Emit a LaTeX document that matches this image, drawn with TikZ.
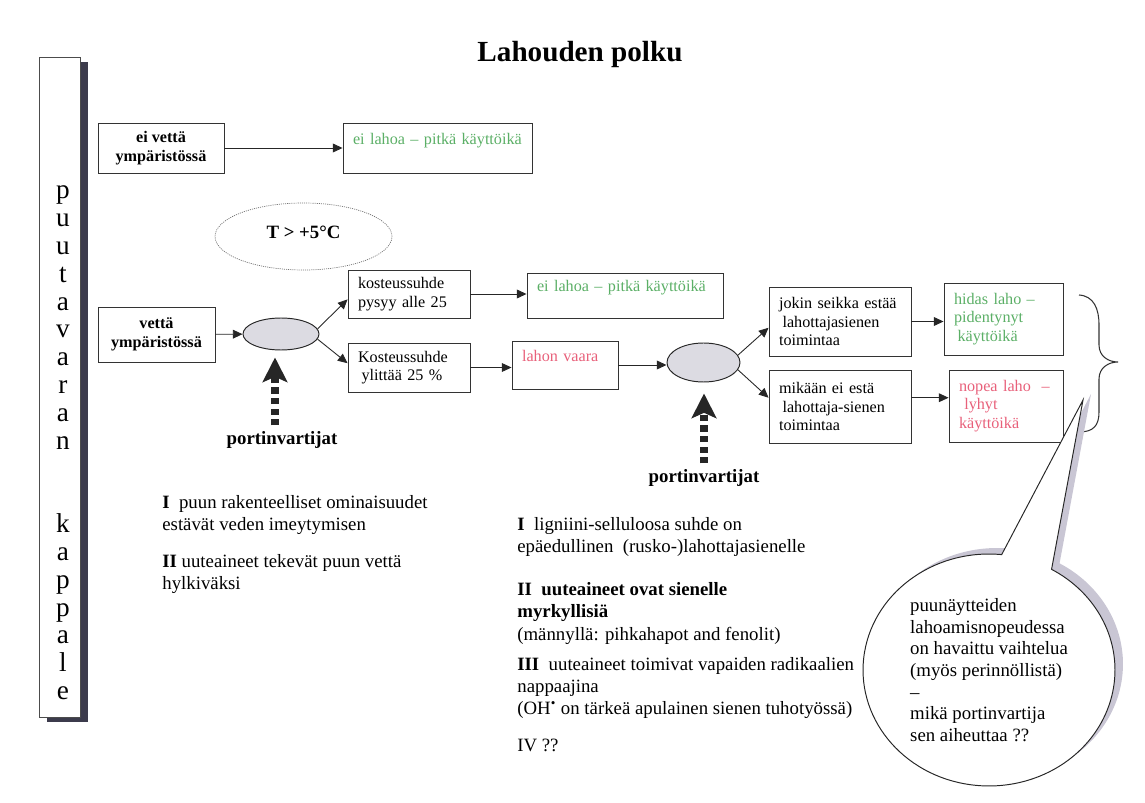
\documentclass[tikz,border=0pt]{standalone}
\usepackage{fontspec}
\setmainfont{Liberation Serif}
\usetikzlibrary{arrows.meta, calc, shapes.geometric, shapes.callouts, shadows}
\definecolor{lahogreen}{HTML}{5BAF66}
\definecolor{lahored}{HTML}{E8607A}
\definecolor{sidedark}{HTML}{3C3B4C}
\definecolor{bubbleshade}{HTML}{C9C6D4}
\definecolor{gatefill}{HTML}{DCDBE2}
\tikzset{
  box/.style={draw=black!80, line width=0.55pt, inner xsep=0.2cm, inner ysep=0pt, align=left, font=\fontsize{9.2}{10.6}\selectfont},
  boldbox/.style={box, align=center, font=\fontsize{9.2}{10.6}\selectfont\bfseries},
  toptext/.style={text depth=10.5pt},
  flow/.style={-{Triangle[length=5.5pt,width=5pt]}, line width=0.5pt, draw=black!85},
  gate/.style={ellipse, draw=black!85, line width=0.55pt, fill=gatefill, inner sep=0pt},
  guard/.style={line width=4pt, dash pattern=on 3.5pt off 2.5pt, draw=black!85, -{Stealth[length=14pt,width=14pt,inset=3pt]}},
  guardlabel/.style={font=\fontsize{10.7}{12}\selectfont\bfseries},
  body/.style={align=left, anchor=north west, inner sep=0pt, font=\fontsize{10.7}{12.6}\selectfont},
  sidechar/.style={anchor=base, inner sep=0pt, font=\fontsize{15.5}{15.5}\selectfont},
  sidebox/.style={draw=black!70, line width=0.5pt, fill=white, minimum width=0.82cm, minimum height=13.2cm, inner sep=0pt,
    drop shadow={shadow xshift=0.16cm, shadow yshift=-0.1cm, fill=sidedark, opacity=1}},
  bubble/.style={ellipse callout, draw=black!85, line width=0.55pt, fill=white, minimum width=5.04cm, minimum height=4.64cm,
    inner sep=0pt, callout pointer arc=24, align=left, font=\fontsize{10.7}{12.3}\selectfont,
    drop shadow={shadow xshift=0.16cm, shadow yshift=0.12cm, fill=bubbleshade, opacity=1}}
}

\begin{document}
\begin{tikzpicture}[x=0.02cm, y=-0.02cm]
	\useasboundingbox (0,0) rectangle (1145,803);
	\node[font=\fontsize{16.6}{20}\selectfont\bfseries, anchor=base] (title) at (580,62) {Lahouden polku};

	% puutavaran kappale
	\node[sidebox] (side) at (59.5,387) {};
	\foreach \ch [count=\i from 0] in {p,u,u,t,a,v,a,r,a,n}
		\node[sidechar] (pu\i) at (63,{199+27.8*\i}) {\ch};
	\foreach \ch [count=\i from 12] in {k,a,p,p,a,l,e}
		\node[sidechar] (ka\i) at (63,{199+27.8*\i}) {\ch};

	% ei vettä
	\node[boldbox, minimum width=2.52cm, minimum height=1cm] (dry) at (161,148) {ei vettä\\ ympäristössä};
	\node[box, toptext, text width=3.38cm, minimum height=1cm, text=lahogreen] (sound1) at (437.5,148) {ei lahoa – pitkä käyttöikä};
	\draw[flow] (dry) -- (sound1);

	% vettä
	\node[ellipse, draw=black!55, dash pattern=on 0.6pt off 0.6pt, line width=0.4pt, minimum width=3.54cm, minimum height=1.34cm,
		text depth=5pt, font=\fontsize{10.7}{12}\selectfont\bfseries] (temp) at (303.5,236.5) {T > +5°C};
	\node[boldbox, minimum width=2.34cm, minimum height=1.1cm] (wet) at (156.5,334.5) {vettä\\ ympäristössä};
	\node[gate, minimum width=1.52cm, minimum height=0.64cm] (gate1) at (281,334) {};
	\node[box, text width=2.04cm, minimum height=0.96cm] (below25) at (409,294) {kosteussuhde\\ pysyy alle 25};
	\node[box, text width=2.04cm, minimum height=0.98cm] (above25) at (409,367.5) {Kosteussuhde\\ \hspace*{2pt}ylittää 25 \%};
	\node[box, toptext, text width=3.52cm, minimum height=0.9cm, text=lahogreen] (sound2) at (625,295.5) {ei lahoa – pitkä käyttöikä};
	\node[box, toptext, text width=1.72cm, minimum height=0.96cm, text=lahored] (risk) at (565,365) {lahon vaara};
	\draw[flow] (wet) -- (gate1);
	\draw[flow] (gate1.8) -- (below25.185);
	\draw[flow] (gate1.-8) -- (above25.176);
	\draw[flow] (below25.east) -- (below25.east -| sound2.west);
	\draw[flow] (above25.east) -- (above25.east -| risk.west);

	% sienen toiminta
	\node[gate, minimum width=1.46cm, minimum height=0.78cm] (gate2) at (703.5,362.5) {};
	\node[box, text width=2.44cm, minimum height=1.38cm] (blocked) at (840,321.5) {jokin seikka estää\\ \hspace*{2pt}lahottajasienen\\ toimintaa};
	\node[box, text width=2.44cm, minimum height=1.46cm] (free) at (840,406.5) {mikään ei estä\\ \hspace*{2pt}lahottaja-sienen\\ toimintaa};
	\node[box, text width=1.98cm, minimum height=1.44cm, text=lahogreen] (slow) at (1003.5,319) {hidas laho –\\ pidentynyt\\ \hspace*{2pt}käyttöikä};
	\node[box, text width=1.88cm, minimum height=1.44cm, text=lahored] (fast) at (1006,406) {nopea laho\ \ –\\ \hspace*{3pt}lyhyt\\ käyttöikä};
	\draw[flow] (risk.east) -- (risk.east -| gate2.west);
	\draw[flow] (gate2.12) -- (blocked.185);
	\draw[flow] (gate2.-12) -- (free.173);
	\draw[flow] (blocked.east) -- (blocked.east -| slow.west);
	\draw[flow] (free.7) -- (free.7 -| fast.west);
	\draw[line width=0.6pt, black!80] (1079,295) .. controls (1094,296) and (1099,309) .. (1099,325) -- (1099,345)
		.. controls (1099,356) and (1108,362) .. (1118,362) .. controls (1108,362) and (1099,368) .. (1099,379)
		-- (1099,412) .. controls (1099,426) and (1093,432) .. (1079,432);

	% portinvartijat
	\node[guardlabel] (por1) at (282,440) {portinvartijat};
	\node[guardlabel] (por2) at (704,478) {portinvartijat};
	\draw[guard, shorten >=0.14cm] ([xshift=-0.14cm]por1.north) -- ([xshift=-0.14cm]por1.north |- gate1.south);
	\draw[guard, shorten >=0.22cm] (por2.north) -- (por2.north |- gate2.south);

	\node[body] (cause1) at (162,495) {\textbf{I}\ \ puun rakenteelliset ominaisuudet\\ estävät veden imeytymisen\\[8.5pt]
		\textbf{II} uuteaineet tekevät puun vettä\\ hylkiväksi};
	\node[body] (cause2) at (517,517) {\textbf{I}\ \ ligniini-selluloosa suhde on\\ epäedullinen\ \ (rusko-)lahottajasienelle\\[12pt]
		\textbf{II\ \ uuteaineet ovat sienelle}\\ \textbf{myrkyllisiä}\\ (männyllä: pihkahapot and fenolit)\\[4.5pt]
		\textbf{III}\ \ uuteaineet toimivat vapaiden radikaalien\\ nappaajina\\
		(OH\textsuperscript{•} on tärkeä apulainen sienen tuhotyössä)\\[8.5pt] IV ??};

	% puhekupla
	\coordinate (notetip) at (1083,400);
	\node[bubble, callout absolute pointer={(notetip)}] (note) at (989,670) {puunäytteiden\\ lahoamisnopeudessa\\
		on havaittu vaihtelua\\ (myös perinnöllistä)\\ –\\ mikä portinvartija\\ sen aiheuttaa ??};
\end{tikzpicture}
\end{document}
